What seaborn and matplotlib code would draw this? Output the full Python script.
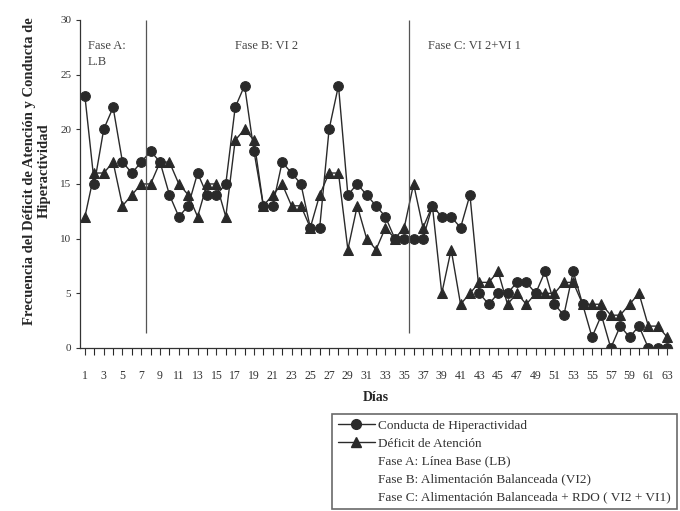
import matplotlib
matplotlib.use('Agg')
import matplotlib.pyplot as plt
from matplotlib.lines import Line2D
import seaborn as sns
import pandas as pd

# Datos (63 dias)
dias = list(range(1, 64))
hiperactividad = [23, 15, 20, 22, 17, 16, 17, 18, 17, 14, 12, 13, 16, 14, 14, 15,
                  22, 24, 18, 13, 13, 17, 16, 15, 11, 11, 20, 24, 14, 15, 14, 13,
                  12, 10, 10, 10, 10, 13, 12, 12, 11, 14, 5, 4, 5, 5, 6, 6,
                  5, 7, 4, 3, 7, 4, 1, 3, 0, 2, 1, 2, 0, 0, 0]
atencion = [12, 16, 16, 17, 13, 14, 15, 15, 17, 17, 15, 14, 12, 15, 15, 12,
            19, 20, 19, 13, 14, 15, 13, 13, 11, 14, 16, 16, 9, 13, 10, 9,
            11, 10, 11, 15, 11, 13, 5, 9, 4, 5, 6, 6, 7, 4, 5, 4,
            5, 5, 5, 6, 6, 4, 4, 4, 3, 3, 4, 5, 2, 2, 1]
cambios_fase = [7.5, 35.5]
fases_texto = ['Fase A:\nL.B', 'Fase B: VI 2', 'Fase C: VI 2+VI 1']
fases_x = [1.3, 17, 37.5]
leyenda_extra = ['Fase A: Línea Base (LB)',
                 'Fase B: Alimentación Balanceada (VI2)',
                 'Fase C: Alimentación Balanceada + RDO ( VI2 + VI1)']

df_h = pd.DataFrame({'dia': dias, 'valor': hiperactividad})
df_a = pd.DataFrame({'dia': dias, 'valor': atencion})

sns.set_style('white')
plt.rcParams['font.family'] = ['Liberation Serif', 'DejaVu Serif']

color = '#2a2a2a'
fig = plt.figure(figsize=(6.8, 5.11), dpi=100)
ax = fig.add_axes([0.118, 0.319, 0.870, 0.642])

sns.lineplot(x='dia', y='valor', data=df_h, ax=ax, color=color, marker='o',
             markersize=7, linewidth=1, markeredgecolor=color)
sns.lineplot(x='dia', y='valor', data=df_a, ax=ax, color=color, marker='^',
             markersize=7.5, linewidth=1, markeredgecolor=color)

for xc in cambios_fase:
    ax.vlines(xc, 1.4, 30, color='#555555', linewidth=0.9)

for tx, xp in zip(fases_texto, fases_x):
    ax.text(xp, 28.2, tx, fontsize=9, color='#444444', va='top', ha='left',
            linespacing=1.5)

ax.set_xlim(0.5, 63.5)
ax.set_ylim(0, 30)
ax.set_yticks([0, 5, 10, 15, 20, 25, 30])
ax.set_xticks(dias[::2])
ax.set_xticks(dias, minor=True)
ax.tick_params(axis='both', colors='#333333', direction='out')
ax.tick_params(axis='x', which='both', length=5, width=0.8, bottom=True,
               pad=11, labelsize=8.5)
ax.tick_params(axis='y', length=3, width=0.8, left=True, labelsize=8)
sns.despine(ax=ax)
for s in ['left', 'bottom']:
    ax.spines[s].set_color('#333333')
    ax.spines[s].set_linewidth(0.9)

ax.set_xlabel('Días', fontsize=10, fontweight='bold', labelpad=6)
ax.set_ylabel('Frecuencia del Déficit de Atención y Conducta de\nHiperactividad',
              fontsize=10.5, fontweight='bold', linespacing=1.15)
ax.yaxis.set_label_coords(-0.05, 0.54)

handles = [Line2D([], [], color=color, marker='o', markersize=7, linewidth=1),
           Line2D([], [], color=color, marker='^', markersize=7.5, linewidth=1)]
handles += [Line2D([], [], linestyle='none') for _ in leyenda_extra]
labels = ['Conducta de Hiperactividad', 'Déficit de Atención'] + leyenda_extra
leg = fig.legend(handles, labels, loc='lower left', bbox_to_anchor=(0.488, 0.004),
                 fontsize=9.5, frameon=True, fancybox=False, handlelength=2.8,
                 handletextpad=0.25, borderpad=0.45, labelspacing=0.42,
                 borderaxespad=0)
leg.get_frame().set_edgecolor('#444444')
leg.get_frame().set_linewidth(1.2)
for t in leg.get_texts():
    t.set_color('#333333')

fig.savefig('out.png', dpi=100)
